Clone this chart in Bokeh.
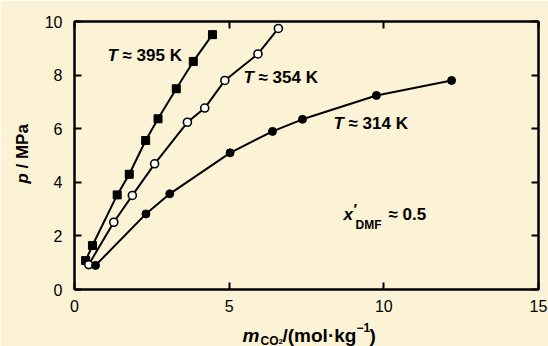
import math

from bokeh.core.properties import value
from bokeh.embed import file_html
from bokeh.models import ColumnDataSource, FixedTicker, Label, LinearAxis, Range1d
from bokeh.plotting import figure
from bokeh.resources import INLINE

# CO2 molality (mol/kg) and pressure (MPa) along three isotherms
m_395 = [0.36, 0.58, 1.38, 1.77, 2.30, 2.70, 3.29, 3.84, 4.46]
p_395 = [1.08, 1.64, 3.53, 4.30, 5.56, 6.37, 7.49, 8.51, 9.51]

m_354 = [0.46, 1.27, 1.87, 2.59, 3.65, 4.21, 4.86, 5.93, 6.59]
p_354 = [0.93, 2.51, 3.51, 4.69, 6.24, 6.77, 7.80, 8.79, 9.74]

m_314 = [0.68, 2.31, 3.08, 5.03, 6.40, 7.37, 9.76, 12.19]
p_314 = [0.90, 2.82, 3.57, 5.10, 5.90, 6.35, 7.24, 7.80]

x_ticks = [0, 5, 10, 15]
y_ticks = [0, 2, 4, 6, 8, 10]

BG = "#FCF2D5"
FONT = "Liberation Sans"
W, H = 548, 346
LEFT, RIGHT, TOP, BOTTOM = 74, 10, 21, 57
X_MAX, Y_MAX = 15, 10

p = figure(
    width=W, height=H,
    x_range=Range1d(0, X_MAX), y_range=Range1d(0, Y_MAX),
    output_backend="svg", toolbar_location=None,
    min_border_left=LEFT, min_border_right=RIGHT,
    min_border_top=TOP, min_border_bottom=BOTTOM,
    background_fill_color=BG, border_fill_color=BG,
    outline_line_color="black", outline_line_width=2,
)
p.xgrid.visible = False
p.ygrid.visible = False


def style_axis(ax, ticks, show_labels, standoff=0):
    ax.ticker = FixedTicker(ticks=ticks)
    ax.minor_tick_line_color = None
    ax.major_tick_in = 7
    ax.major_tick_out = 0
    ax.major_tick_line_width = 2
    ax.major_tick_line_color = "black"
    ax.axis_line_width = 2
    ax.axis_line_color = "black"
    ax.major_label_text_font = FONT
    if show_labels:
        ax.major_label_text_color = "black"
        ax.major_label_text_font_size = "16px"
        ax.major_label_standoff = standoff
    else:
        # tick marks only on the mirrored sides
        ax.major_label_text_color = None
        ax.major_label_text_font_size = "1px"
        ax.major_label_standoff = 0


style_axis(p.xaxis[0], x_ticks, True, 10)
style_axis(p.yaxis[0], y_ticks, True, 12)
top_ax = LinearAxis()
right_ax = LinearAxis()
style_axis(top_ax, x_ticks, False)
style_axis(right_ax, y_ticks, False)
p.add_layout(top_ax, "above")
p.add_layout(right_ax, "right")

# isotherms
p.line(m_395, p_395, line_color="black", line_width=2)
p.line(m_354, p_354, line_color="black", line_width=2)
p.line(m_314, p_314, line_color="black", line_width=2)
p.scatter(m_395, p_395, marker="square", size=8, fill_color="black", line_color="black")
p.scatter(m_354, p_354, marker="circle", size=8, fill_color="white",
          line_color="black", line_width=1.6)
p.scatter(m_314, p_314, marker="circle", size=8, fill_color="black", line_color="black")

# pixel position inside the canvas -> data coordinates, for text placement
frame_w = W - LEFT - RIGHT
frame_h = H - TOP - BOTTOM


def at(px, py):
    return (px - LEFT) / frame_w * X_MAX, (H - BOTTOM - py) / frame_h * Y_MAX


def make_label(px, py, s, size=17, italic=False):
    x, y = at(px, py)
    return Label(
        x=x, y=y, text=s, text_font=FONT, text_font_size=f"{size}px",
        text_font_style="bold italic" if italic else "bold", text_color="black",
        text_align="left", text_baseline="middle",
    )


# isotherm captions
for tx, ty, caption in [(107, 55, "≈ 395 K"), (243, 77, "≈ 354 K"), (333, 123, "≈ 314 K")]:
    p.add_layout(make_label(tx, ty, "T", italic=True))
    p.add_layout(make_label(tx + 15, ty, caption))

# solvent composition note
p.add_layout(make_label(343, 214, "x", italic=True))
p.add_layout(make_label(353, 208, "′", size=15))
p.add_layout(make_label(355, 224, "DMF", size=12))
p.add_layout(make_label(388, 214, "≈ 0.5"))


def title_runs(runs, angle, baseline):
    """Axis title pieces as text glyphs on the overlay level (not clipped to the frame)."""
    src = ColumnDataSource(dict(
        x=[at(r[0], r[1])[0] for r in runs],
        y=[at(r[0], r[1])[1] for r in runs],
        t=[r[2] for r in runs], fs=[r[3] for r in runs], st=[r[4] for r in runs],
    ))
    p.text(x="x", y="y", text="t", source=src, text_font=value(FONT),
           text_font_size="fs", text_font_style="st", text_color="black",
           text_align="left", text_baseline=baseline, angle=angle, level="overlay")


# y axis title, reading upwards
title_runs([(22, 183, "p", "17px", "bold italic"),
            (22, 168, "/ MPa", "17px", "bold")], math.pi / 2, "middle")

# x axis title
title_runs([(242, 335, "m", "19px", "bold italic"),
            (260, 340, "CO", "12px", "bold"),
            (278, 341, "2", "8px", "bold"),
            (282, 335, "/(mol·kg", "19px", "bold"),
            (356, 327, "−1", "12px", "bold"),
            (369, 335, ")", "19px", "bold")], 0.0, "alphabetic")

open("out.html", "w").write(file_html(p, INLINE))
